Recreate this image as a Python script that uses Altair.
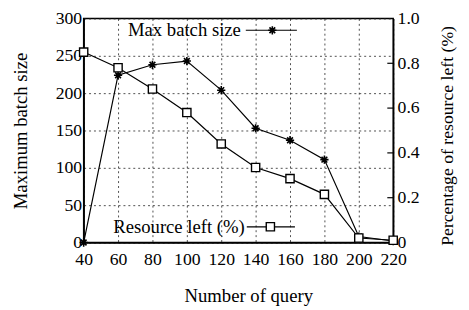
import altair as alt
import pandas as pd

queries = [40, 60, 80, 100, 120, 140, 160, 180, 200, 220]
max_batch = [0, 224, 238, 243, 204, 153, 137, 111, 8, 2]
resource_left = [0.85, 0.78, 0.685, 0.58, 0.44, 0.335, 0.285, 0.215, 0.02, 0.01]
right_ticks = [0.2, 0.4, 0.6, 0.8]

df = pd.DataFrame({"q": queries, "mb": max_batch, "rl": resource_left})
tick_df = pd.DataFrame({"rl": right_ticks})
one = pd.DataFrame({"a": [0]})

FONT = "Liberation Serif"
FS = 18
TFS = 19
W, H = 315, 228
ASTER = "M-1,0L1,0M0,-1L0,1M-0.7,-0.7L0.7,0.7M-0.7,0.7L0.7,-0.7"

xenc = alt.X("q:Q", scale=alt.Scale(domain=[40, 220], nice=False),
             axis=alt.Axis(values=queries, title="Number of query", grid=True,
                           gridDash=[2, 3], gridColor="#222", gridOpacity=0.8,
                           ticks=False, labelPadding=8, titleX=W / 2 + 10,
                           titleY=54, titleBaseline="middle", titleFontSize=TFS,
                           labelOverlap=False, labelFlush=False))

y_left = alt.Y("mb:Q", scale=alt.Scale(domain=[0, 300], nice=False),
               axis=alt.Axis(orient="left", values=[0, 50, 100, 150, 200, 250, 300],
                             title="Maximum batch size", grid=True, gridDash=[2, 3],
                             gridColor="#222", gridOpacity=0.8, ticks=False,
                             labelPadding=2, titleX=-64, titleY=H / 2,
                             titleAngle=270, titleBaseline="middle", titleFontSize=TFS,
                             labelOverlap=False, labelFlush=False))

y_right = alt.Y("rl:Q", scale=alt.Scale(domain=[0, 1], nice=False),
                axis=alt.Axis(orient="right", values=[0, 0.2, 0.4, 0.6, 0.8, 1.0],
                              labelExpr="datum.value == 0 ? '0' : format(datum.value, '.1f')",
                              title="Percentage of resource left (%)", grid=False,
                              ticks=False, labelPadding=4, titleX=55, titleY=H / 2 + 5,
                              titleAngle=270, titleBaseline="middle", titleFontSize=18,
                              labelOverlap=False, labelFlush=False))

base = alt.Chart(df)
left = alt.layer(
    base.mark_line(color="black", strokeWidth=1.2).encode(x=xenc, y=y_left),
    base.mark_point(shape=ASTER, filled=False, color="black", size=70,
                    strokeWidth=1.6, opacity=1).encode(x=xenc, y=y_left),
)
right = alt.layer(
    base.mark_line(color="black", strokeWidth=1.2).encode(x=xenc, y=y_right),
    base.mark_point(shape="square", filled=True, fill="white", stroke="black",
                    size=70, strokeWidth=1.4, opacity=1).encode(x=xenc, y=y_right),
    alt.Chart(tick_df).mark_rule(color="black", strokeWidth=1.2).encode(
        y=y_right, x=alt.value(W - 6), x2=alt.value(W)),
)

leg = alt.Chart(one)
legend = alt.layer(
    leg.mark_text(text="Max batch size", font=FONT, fontSize=19, align="right",
                  baseline="middle", color="black").encode(x=alt.value(160), y=alt.value(12)),
    leg.mark_rule(color="black", strokeWidth=1.2).encode(
        x=alt.value(165), x2=alt.value(217), y=alt.value(12)),
    leg.mark_point(shape=ASTER, filled=False, color="black", size=70, strokeWidth=1.6,
                   opacity=1).encode(x=alt.value(192), y=alt.value(12)),
    leg.mark_text(text="Resource left (%)", font=FONT, fontSize=19, align="right",
                  baseline="middle", color="black").encode(x=alt.value(164), y=alt.value(212)),
    leg.mark_rule(color="black", strokeWidth=1.2).encode(
        x=alt.value(166), x2=alt.value(215), y=alt.value(212)),
    leg.mark_point(shape="square", filled=True, fill="white", stroke="black", size=70,
                   strokeWidth=1.4, opacity=1).encode(x=alt.value(190), y=alt.value(212)),
)

chart = alt.layer(left, right, legend).resolve_scale(y="independent").properties(
    width=W, height=H,
    autosize=alt.AutoSizeParams(type="none"),
    padding={"left": 77, "top": 8, "right": 69, "bottom": 65},
    background="white",
).configure_view(stroke="black", strokeWidth=1.5).configure_axis(
    labelFont=FONT, titleFont=FONT, labelFontSize=FS, titleFontSize=TFS,
    labelColor="black", titleColor="black", titleFontWeight="normal",
    domainColor="black", domainWidth=1.5,
)

chart.save("out.html", embed_options={"renderer": "svg", "actions": False})
